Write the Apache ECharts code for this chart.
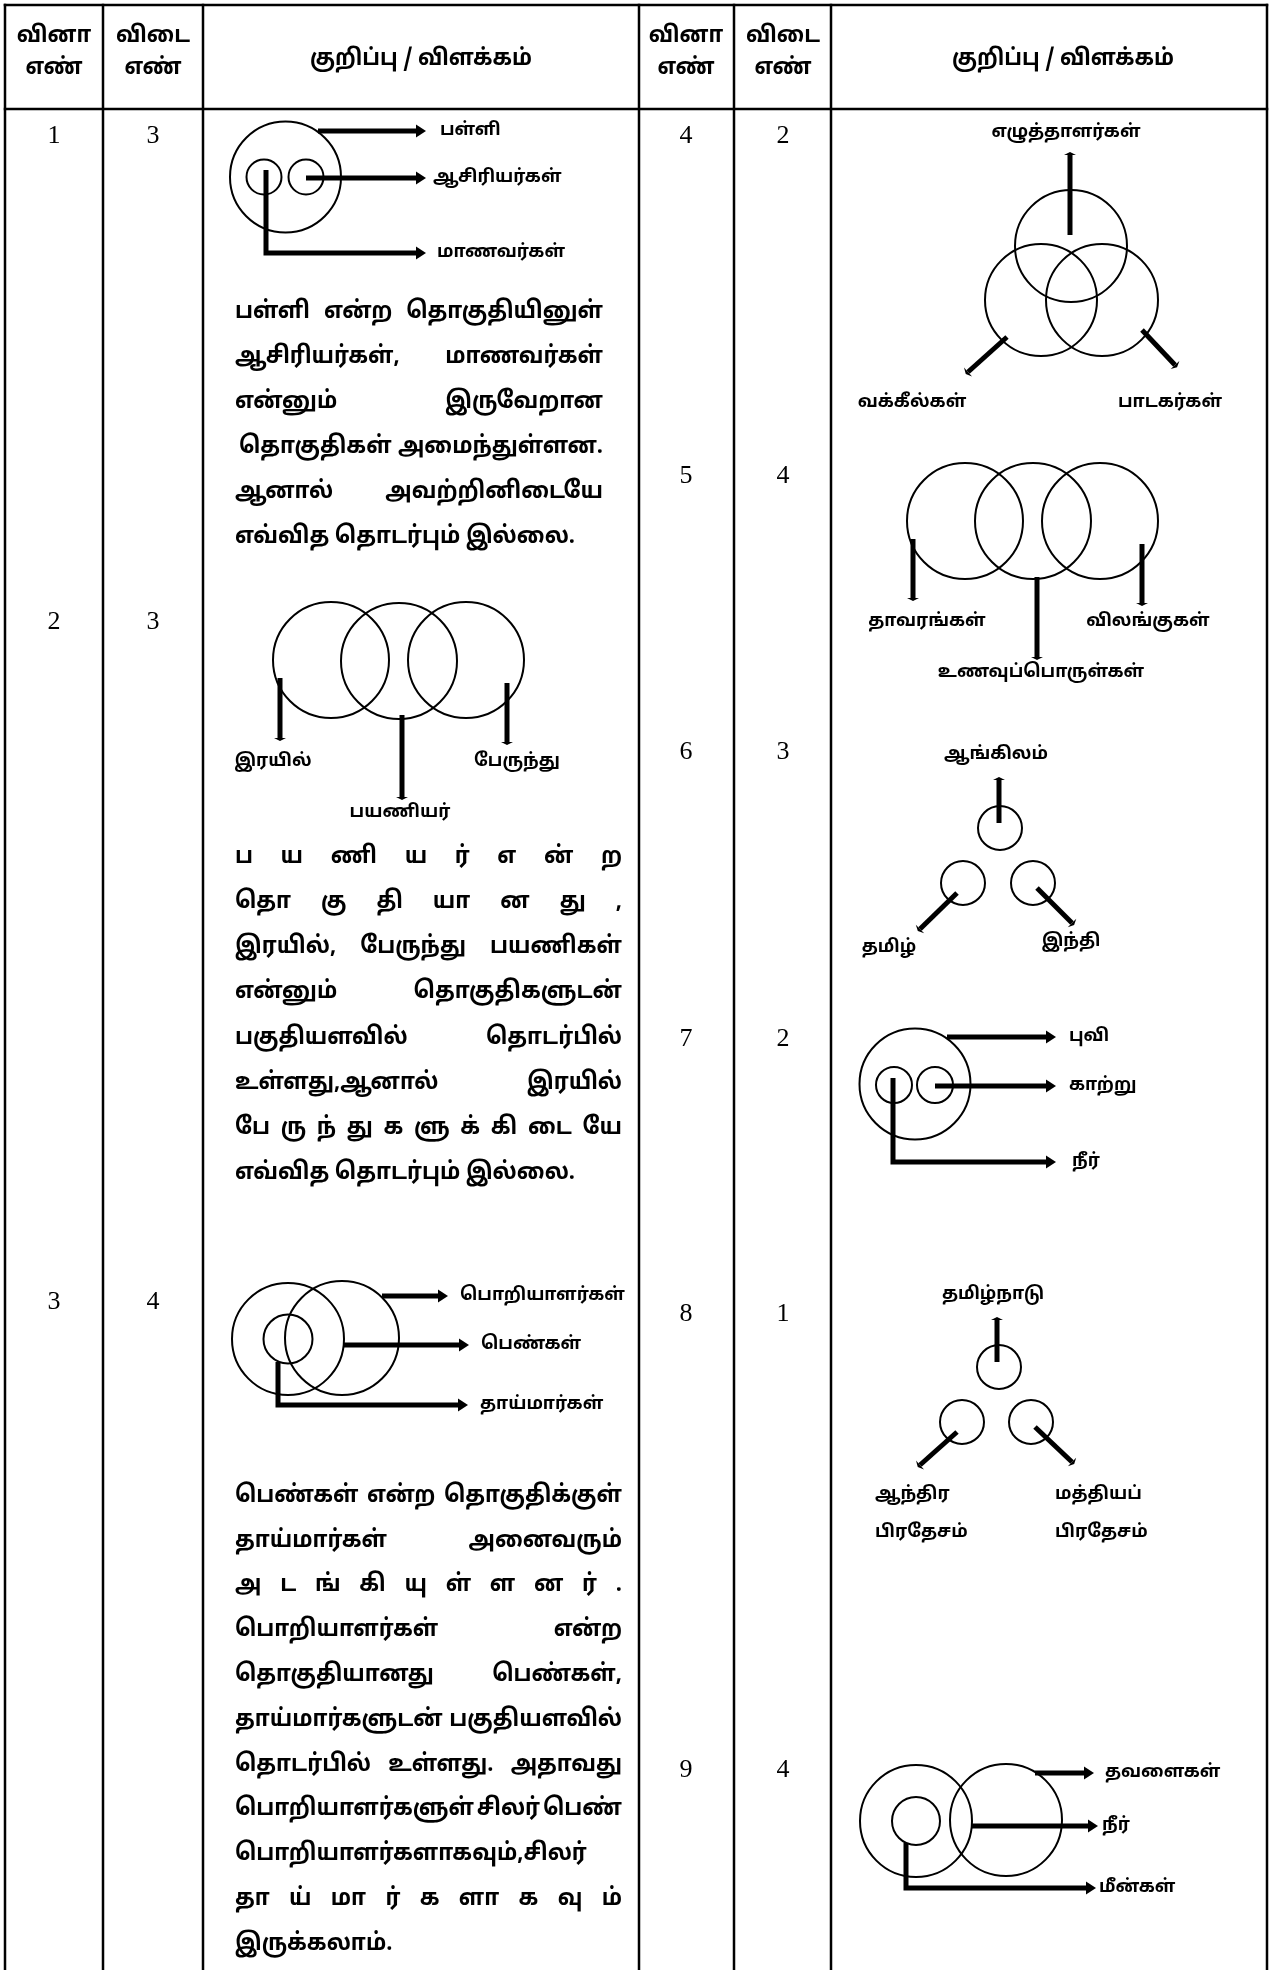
<!DOCTYPE html>
<html>
<head>
<meta charset="utf-8">
<title>வினா விடை</title>
<script src="https://cdn.jsdelivr.net/npm/echarts@6.0.0/dist/echarts.min.js"></script>
<style>
html,body{margin:0;padding:0;background:#ffffff;}
#chart{width:1279px;height:1970px;}
</style>
</head>
<body>
<div id="chart"></div>
<script>
// ================= DATA =================
const questionNumbers = [1, 2, 3, 4, 5, 6, 7, 8, 9];
const answerNumbers = [3, 3, 4, 2, 4, 3, 2, 1, 4];
const headerQuestion = ['வினா', 'எண்'];
const headerAnswer = ['விடை', 'எண்'];
const headerNote = 'குறிப்பு / விளக்கம்';
const diagramLabels = [
  ['பள்ளி', 'ஆசிரியர்கள்', 'மாணவர்கள்'],
  ['இரயில்', 'பயணியர்', 'பேருந்து'],
  ['பொறியாளர்கள்', 'பெண்கள்', 'தாய்மார்கள்'],
  ['எழுத்தாளர்கள்', 'வக்கீல்கள்', 'பாடகர்கள்'],
  ['தாவரங்கள்', 'உணவுப்பொருள்கள்', 'விலங்குகள்'],
  ['ஆங்கிலம்', 'தமிழ்', 'இந்தி'],
  ['புவி', 'காற்று', 'நீர்'],
  ['தமிழ்நாடு', 'ஆந்திர\nபிரதேசம்', 'மத்தியப்\nபிரதேசம்'],
  ['தவளைகள்', 'நீர்', 'மீன்கள்']
];
const explanation1 = [
  'பள்ளி என்ற தொகுதியினுள்',
  'ஆசிரியர்கள், மாணவர்கள்',
  'என்னும் இருவேறான',
  'தொகுதிகள் அமைந்துள்ளன.',
  'ஆனால் அவற்றினிடையே',
  'எவ்வித தொடர்பும் இல்லை.'
];
const explanation2 = [
  'ப ய ணி ய ர் எ ன் ற',
  'தொ கு தி யா ன து ,',
  'இரயில், பேருந்து பயணிகள்',
  'என்னும் தொகுதிகளுடன்',
  'பகுதியளவில் தொடர்பில்',
  'உள்ளது,ஆனால் இரயில்',
  'பே ரு ந் து க ளு க் கி டை யே',
  'எவ்வித தொடர்பும் இல்லை.'
];
const explanation3 = [
  'பெண்கள் என்ற தொகுதிக்குள்',
  'தாய்மார்கள் அனைவரும்',
  'அ ட ங் கி யு ள் ள ன ர் .',
  'பொறியாளர்கள் என்ற',
  'தொகுதியானது பெண்கள்,',
  'தாய்மார்களுடன் பகுதியளவில்',
  'தொடர்பில் உள்ளது. அதாவது',
  'பொறியாளர்களுள் சிலர் பெண்',
  'பொறியாளர்களாகவும்,சிலர்',
  'தா ய் மா ர் க ளா க வு ம்',
  'இருக்கலாம்.'
];
const explanations = [explanation1, explanation2, explanation3];

// ================= LAYOUT (positions / sizes / styles) =================
const TAMIL = "'Noto Sans Tamil','Lohit Tamil','Noto Sans Tamil UI','Latha','Noto Sans',sans-serif";
const SERIF = "'Liberation Serif','Times New Roman',serif";
const LAYOUT = {
  W: 1279, H: 1970,
  vLines: [5, 103, 203, 639, 734, 831, 1267],
  hLines: [5, 109],
  lineWidth: 2.5,
  headerLineY: [37, 69],
  headerNoteY: 60,
  sideCols: [[54, 153, 421], [686, 783, 1063]],
  questionSide: [0, 0, 0, 1, 1, 1, 1, 1, 1],
  rowY: [136, 622, 1302, 136, 476, 752, 1039, 1314, 1770],
  paragraphs: [
    { x0: 235, x1: 603, y0: 313, dy: 45, indent: { 3: 4 } },
    { x0: 235, x1: 622, y0: 858, dy: 45.2 },
    { x0: 235, x1: 622, y0: 1497, dy: 44.8 }
  ],
  diagrams: [
    { circles: [[285.5, 177, 55.5], [264, 177, 17.5], [306, 177, 17.5]],
      arrows: [[[318, 131], [425, 131]], [[306, 178], [425, 178]], [[266, 170], [266, 253], [425, 253]]], head: 'big',
      labels: [[440, 131, 'left'], [433, 178, 'left'], [437, 253, 'left']] },
    { circles: [[331, 660, 58], [399, 661, 58], [466, 660, 58]],
      arrows: [[[280, 678], [280, 738]], [[402, 715], [402, 797]], [[507, 683], [507, 742]]], head: 'small',
      labels: [[273, 762, 'center'], [400, 813, 'center'], [517, 762, 'center']] },
    { circles: [[288, 1339, 56], [342, 1338, 57], [288, 1339, 24.5]],
      arrows: [[[382, 1296], [447, 1296]], [[343, 1345], [468, 1345]], [[278, 1362], [278, 1405], [467, 1405]]], head: 'big',
      labels: [[460, 1296, 'left'], [481, 1345, 'left'], [480, 1405, 'left']] },
    { circles: [[1071, 246, 56], [1041, 300, 56], [1102, 300, 56]],
      arrows: [[[1070, 235], [1070, 155]], [[1007, 337], [968, 372]], [[1142, 330], [1175, 365]]], head: 'small',
      labels: [[1066, 133, 'center'], [912, 403, 'center'], [1170, 403, 'center']] },
    { circles: [[965, 521, 58], [1033, 521, 58], [1100, 521, 58]],
      arrows: [[[913, 539], [913, 598]], [[1037, 577], [1037, 657]], [[1142, 544], [1142, 603]]], head: 'small',
      labels: [[927, 622, 'center'], [1041, 673, 'center'], [1148, 622, 'center']] },
    { circles: [[1000, 828, 22], [963, 883, 22], [1033, 883, 22]],
      arrows: [[[999, 823], [999, 780]], [[957, 893], [920, 929]], [[1037, 888], [1072, 923]]], head: 'small',
      labels: [[996, 755, 'center'], [889, 948, 'center'], [1071, 942, 'center']] },
    { circles: [[915, 1084, 55.5], [894, 1085, 18], [935, 1085, 18]],
      arrows: [[[947, 1037], [1055, 1037]], [[935, 1086], [1055, 1086]], [[893, 1078], [893, 1162], [1055, 1162]]], head: 'big',
      labels: [[1069, 1037, 'left'], [1069, 1086, 'left'], [1072, 1162, 'left']] },
    { circles: [[999, 1367, 22], [962, 1422, 22], [1031, 1422, 22]],
      arrows: [[[997, 1362], [997, 1320]], [[957, 1432], [920, 1465]], [[1035, 1427], [1072, 1462]]], head: 'small',
      labels: [[993, 1295, 'center'], [875, 1514, 'left'], [1055, 1514, 'left']] },
    { circles: [[916, 1821, 56], [1006, 1820, 56], [916, 1821, 24]],
      arrows: [[[1035, 1773], [1093, 1773]], [[972, 1826], [1097, 1826]], [[906, 1843], [906, 1888], [1095, 1888]]], head: 'big',
      labels: [[1105, 1773, 'left'], [1102, 1826, 'left'], [1099, 1888, 'left']] }
  ]
};

// ---------- text measuring / calibration ----------
const mctx = document.createElement('canvas').getContext('2d');
function fontStr(spec) { return spec.weight + ' ' + spec.size + 'px ' + spec.family; }
function tw(text, spec) { mctx.font = fontStr(spec); return mctx.measureText(text).width; }
function calibrate(spec, texts, target) {
  let w = 0; texts.forEach(t => { w += tw(t, spec); });
  spec.sx = Math.max(0.72, Math.min(1.25, target / w));
  return spec;
}
const PARA = calibrate({ size: 24, weight: 'bold', family: TAMIL }, ['எவ்வித தொடர்பும் இல்லை.'], 340);
const LABEL = calibrate({ size: 18, weight: 'bold', family: TAMIL },
  ['ஆசிரியர்கள்', 'மாணவர்கள்', 'பொறியாளர்கள்', 'எழுத்தாளர்கள்', 'தாவரங்கள்'], 688);
const HEAD = calibrate({ size: 23, weight: 'bold', family: TAMIL }, [headerNote], 222);
const NUM = { size: 26, weight: 'normal', family: SERIF, sx: 1 };

function textEl(text, x, y, spec, align, extra) {
  return {
    type: 'text', x: x, y: y, scaleX: spec.sx,
    style: Object.assign({ text: text, x: 0, y: 0, font: fontStr(spec), fill: '#000', align: align, verticalAlign: 'middle' }, extra || {})
  };
}

// ---------- render functions ----------
function renderTable(params, api) {
  const ch = [];
  const lw = LAYOUT.lineWidth;
  LAYOUT.vLines.forEach(x => {
    const a = api.coord([x, LAYOUT.hLines[0]]), b = api.coord([x, LAYOUT.H]);
    ch.push({ type: 'line', shape: { x1: a[0], y1: a[1] - lw / 2, x2: b[0], y2: b[1] }, style: { stroke: '#000', lineWidth: lw } });
  });
  LAYOUT.hLines.forEach(y => {
    const a = api.coord([LAYOUT.vLines[0], y]), b = api.coord([LAYOUT.vLines[LAYOUT.vLines.length - 1], y]);
    ch.push({ type: 'line', shape: { x1: a[0] - lw / 2, y1: a[1], x2: b[0] + lw / 2, y2: b[1] }, style: { stroke: '#000', lineWidth: lw } });
  });
  return { type: 'group', children: ch };
}

function renderHeader(params, api) {
  const side = params.dataIndex;
  const cols = LAYOUT.sideCols[side];
  const ch = [];
  headerQuestion.forEach((t, k) => { const p = api.coord([cols[0], LAYOUT.headerLineY[k]]); ch.push(textEl(t, p[0], p[1], HEAD, 'center')); });
  headerAnswer.forEach((t, k) => { const p = api.coord([cols[1], LAYOUT.headerLineY[k]]); ch.push(textEl(t, p[0], p[1], HEAD, 'center')); });
  const p = api.coord([cols[2], LAYOUT.headerNoteY]);
  ch.push(textEl(headerNote, p[0], p[1], HEAD, 'center'));
  return { type: 'group', children: ch };
}

function renderNumbers(params, api) {
  const i = params.dataIndex;
  const cols = LAYOUT.sideCols[LAYOUT.questionSide[i]];
  const y = LAYOUT.rowY[i];
  const a = api.coord([cols[0], y]), b = api.coord([cols[1], y]);
  return { type: 'group', children: [
    textEl(String(questionNumbers[i]), a[0], a[1], NUM, 'center'),
    textEl(String(answerNumbers[i]), b[0], b[1], NUM, 'center')
  ] };
}

function arrowEls(api, pts, kind) {
  const P = pts.map(p => api.coord(p));
  const n = P.length;
  const tip = P[n - 1], prev = P[n - 2];
  let dx = tip[0] - prev[0], dy = tip[1] - prev[1];
  const len = Math.hypot(dx, dy); dx /= len; dy /= len;
  const nx = -dy, ny = dx;
  const els = [];
  if (kind === 'big') {
    const hl = 9, hw = 6.5;
    const base = [tip[0] - dx * hl, tip[1] - dy * hl];
    const shaft = P.slice(0, n - 1).concat([[base[0] + dx, base[1] + dy]]);
    els.push({ type: 'polyline', shape: { points: shaft }, style: { stroke: '#000', lineWidth: 5, fill: 'none', lineJoin: 'miter', lineCap: 'butt' } });
    els.push({ type: 'polygon', shape: { points: [[base[0] + nx * hw, base[1] + ny * hw], [tip[0] + dx, tip[1] + dy], [base[0] - nx * hw, base[1] - ny * hw]] }, style: { fill: '#000' } });
  } else {
    const hw = 6;
    els.push({ type: 'polyline', shape: { points: P }, style: { stroke: '#000', lineWidth: 5, fill: 'none', lineCap: 'butt' } });
    els.push({ type: 'polygon', shape: { points: [[tip[0] + nx * hw, tip[1] + ny * hw], [tip[0] + dx * 3, tip[1] + dy * 3], [tip[0] - nx * hw, tip[1] - ny * hw]] }, style: { fill: '#000' } });
  }
  return els;
}

function renderDiagram(params, api) {
  const i = params.dataIndex;
  const d = LAYOUT.diagrams[i];
  const labels = diagramLabels[i];
  const ch = [];
  d.circles.forEach(c => {
    const p = api.coord([c[0], c[1]]);
    const r = api.size([c[2], 0])[0];
    ch.push({ type: 'circle', shape: { cx: p[0], cy: p[1], r: r }, style: { fill: 'none', stroke: '#000', lineWidth: 2 } });
  });
  d.arrows.forEach(a => { arrowEls(api, a, d.head).forEach(e => ch.push(e)); });
  d.labels.forEach((lb, k) => {
    const p = api.coord([lb[0], lb[1]]);
    ch.push(textEl(labels[k], p[0], p[1], LABEL, lb[2], { lineHeight: 38 }));
  });
  return { type: 'group', children: ch };
}

function renderParagraph(params, api) {
  const k = params.dataIndex;
  const lines = explanations[k];
  const blk = LAYOUT.paragraphs[k];
  const ch = [];
  lines.forEach((line, j) => {
    const y = blk.y0 + blk.dy * j;
    const last = j === lines.length - 1;
    const words = line.split(' ').filter(s => s.length);
    const x0 = blk.x0 + ((blk.indent && blk.indent[j]) || 0);
    const start = api.coord([x0, y]);
    if (last || words.length < 2) {
      ch.push(textEl(line, start[0], start[1], PARA, 'left'));
    } else {
      const widths = words.map(w => tw(w, PARA) * PARA.sx);
      const total = widths.reduce((a, b) => a + b, 0);
      const avail = api.size([blk.x1 - x0, 0])[0];
      const gap = (avail - total) / (words.length - 1);
      let x = start[0];
      words.forEach((w, m) => { ch.push(textEl(w, x, start[1], PARA, 'left')); x += widths[m] + gap; });
    }
  });
  return { type: 'group', children: ch };
}

// ---------- chart ----------
const chart = echarts.init(document.getElementById('chart'), null, { renderer: 'canvas' });
chart.setOption({
  backgroundColor: '#ffffff',
  animation: false,
  grid: { left: 0, right: 0, top: 0, bottom: 0, containLabel: false },
  xAxis: { type: 'value', min: 0, max: LAYOUT.W, show: false },
  yAxis: { type: 'value', min: 0, max: LAYOUT.H, inverse: true, show: false },
  series: [
    { type: 'custom', name: 'table', coordinateSystem: 'cartesian2d', clip: false, silent: true,
      data: [[0, 0]], renderItem: renderTable },
    { type: 'custom', name: 'header', coordinateSystem: 'cartesian2d', clip: false, silent: true,
      data: [[0, 0], [1, 0]], renderItem: renderHeader },
    { type: 'custom', name: 'numbers', coordinateSystem: 'cartesian2d', clip: false, silent: true,
      data: questionNumbers.map((q, i) => [i, answerNumbers[i]]), renderItem: renderNumbers },
    { type: 'custom', name: 'diagrams', coordinateSystem: 'cartesian2d', clip: false, silent: true,
      data: diagramLabels.map((l, i) => [i, 0]), renderItem: renderDiagram },
    { type: 'custom', name: 'explanations', coordinateSystem: 'cartesian2d', clip: false, silent: true,
      data: explanations.map((e, i) => [i, 0]), renderItem: renderParagraph }
  ]
});
</script>
</body>
</html>
